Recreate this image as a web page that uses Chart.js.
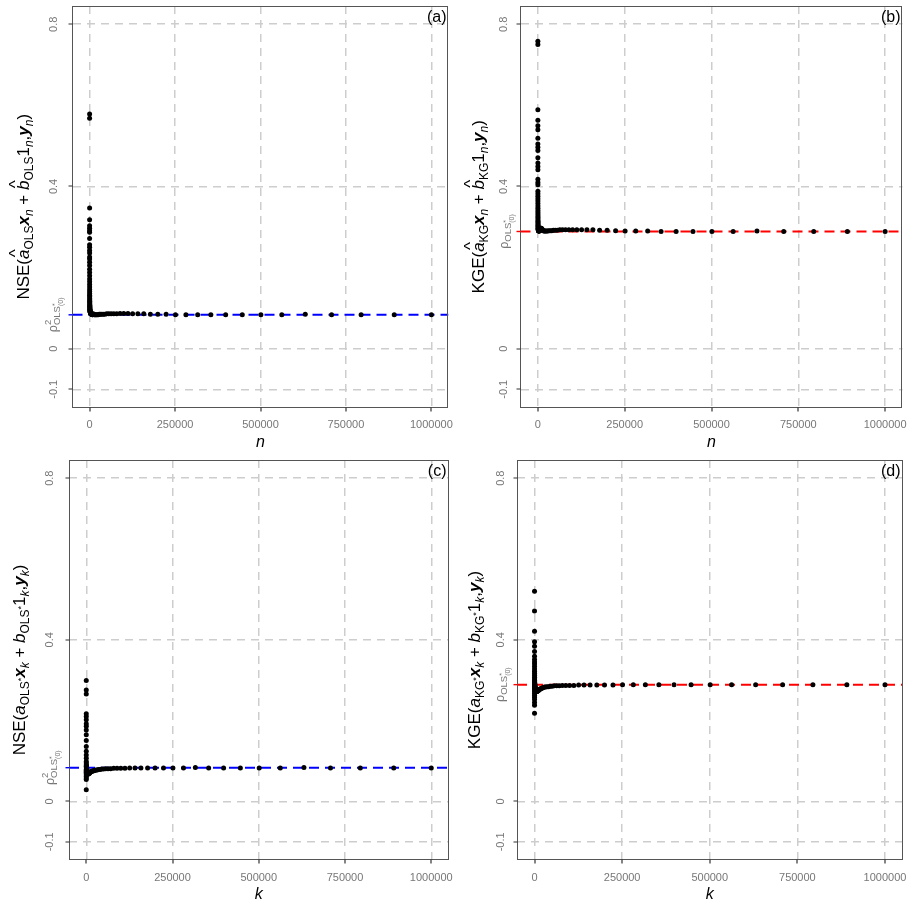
<!DOCTYPE html>
<html><head><meta charset="utf-8">
<script src="https://cdn.jsdelivr.net/npm/chart.js@4.4.1/dist/chart.umd.min.js"></script>
<style>
html,body{margin:0;padding:0;background:#fff;}
#wrap{position:relative;width:916px;height:906px;background:#fff;}
canvas{position:absolute;}
</style></head><body>
<div id="wrap">
<canvas id="pa" width="458" height="453" style="left:0;top:0"></canvas>
<canvas id="pb" width="458" height="453" style="left:458px;top:0"></canvas>
<canvas id="pc" width="458" height="453" style="left:0;top:453px"></canvas>
<canvas id="pd" width="458" height="453" style="left:458px;top:453px"></canvas>
</div>
<script>
// ---------- data ----------
const SAMPLE_SIZE = [
  10, 11, 13, 14, 16, 18, 20, 22, 25, 28, 32, 35, 40, 45, 50, 56, 63, 71, 79, 89,
  100, 112, 126, 141, 158, 178, 200, 224, 251, 282, 316, 355, 398, 447, 501, 562, 631, 708, 794, 891,
  1000, 1122, 1259, 1413, 1585, 1778, 1995, 2239, 2512, 2818, 3162, 3548, 3981, 4467, 5012, 5623, 6310, 7079, 7943, 8913,
  10000, 11220, 12589, 14125, 15849, 17783, 19953, 22387, 25119, 28184, 31623, 35481, 39811, 44668, 50119, 56234, 63096, 70795, 79433, 89125,
  100000, 112202, 125893, 141254, 158489, 177828, 199526, 223872, 251189, 281838, 316228, 354813, 398107, 446684, 501187, 562341, 630957, 707946, 794328, 891251, 1000000
];
const NSE_OLS_HAT = [
  0.579, 0.568, 0.347, 0.297, 0.318, 0.272, 0.303, 0.287, 0.256, 0.291,
  0.242, 0.250, 0.226, 0.236, 0.213, 0.221, 0.196, 0.205, 0.188, 0.172,
  0.180, 0.165, 0.152, 0.158, 0.146, 0.141, 0.132, 0.136, 0.124, 0.128,
  0.117, 0.120, 0.111, 0.114, 0.106, 0.108, 0.102, 0.104, 0.098, 0.100,
  0.096, 0.095, 0.093, 0.094, 0.092, 0.091, 0.090, 0.089, 0.088, 0.088,
  0.087, 0.087, 0.086, 0.086, 0.086, 0.085, 0.085, 0.085, 0.084, 0.084,
  0.086, 0.085, 0.085, 0.084, 0.084, 0.084, 0.084, 0.084, 0.084, 0.085,
  0.085, 0.085, 0.085, 0.085, 0.086, 0.086, 0.086, 0.086, 0.086, 0.087,
  0.087, 0.087, 0.086, 0.086, 0.086, 0.085, 0.085, 0.085, 0.084, 0.084,
  0.084, 0.084, 0.084, 0.084, 0.084, 0.084, 0.085, 0.084, 0.084, 0.084, 0.084
];
const KGE_KG_HAT = [
  0.758, 0.750, 0.589, 0.563, 0.550, 0.540, 0.519, 0.505, 0.497, 0.489,
  0.471, 0.458, 0.449, 0.441, 0.418, 0.410, 0.404, 0.388, 0.382, 0.376,
  0.370, 0.364, 0.358, 0.352, 0.346, 0.341, 0.336, 0.331, 0.326, 0.322,
  0.318, 0.314, 0.311, 0.308, 0.305, 0.303, 0.301, 0.299, 0.297, 0.296,
  0.295, 0.294, 0.293, 0.293, 0.292, 0.292, 0.291, 0.291, 0.291, 0.290,
  0.290, 0.290, 0.290, 0.291, 0.292, 0.293, 0.294, 0.295, 0.296, 0.297,
  0.297, 0.296, 0.294, 0.292, 0.291, 0.290, 0.290, 0.290, 0.290, 0.290,
  0.291, 0.291, 0.291, 0.292, 0.292, 0.292, 0.293, 0.293, 0.293, 0.293,
  0.293, 0.293, 0.293, 0.293, 0.293, 0.292, 0.292, 0.291, 0.290, 0.290,
  0.290, 0.289, 0.289, 0.289, 0.289, 0.289, 0.290, 0.289, 0.289, 0.289, 0.289
];
const NSE_OLS_STAR = [
  0.299, 0.029, 0.276, 0.266, 0.054, 0.217, 0.210, 0.058, 0.202, 0.192,
  0.186, 0.066, 0.177, 0.165, 0.074, 0.151, 0.136, 0.062, 0.124, 0.115,
  0.070, 0.107, 0.099, 0.072, 0.091, 0.095, 0.076, 0.088, 0.078, 0.086,
  0.080, 0.087, 0.078, 0.085, 0.079, 0.084, 0.080, 0.083, 0.079, 0.082,
  0.078, 0.081, 0.077, 0.079, 0.076, 0.075, 0.074, 0.073, 0.072, 0.071,
  0.070, 0.069, 0.069, 0.068, 0.068, 0.068, 0.069, 0.069, 0.070, 0.070,
  0.071, 0.072, 0.073, 0.074, 0.074, 0.075, 0.076, 0.076, 0.077, 0.078,
  0.078, 0.079, 0.079, 0.080, 0.080, 0.081, 0.081, 0.081, 0.082, 0.082,
  0.082, 0.082, 0.083, 0.083, 0.083, 0.083, 0.083, 0.083, 0.083, 0.083,
  0.084, 0.083, 0.083, 0.083, 0.083, 0.083, 0.084, 0.083, 0.083, 0.083, 0.083
];
const KGE_KG_STAR = [
  0.520, 0.218, 0.471, 0.421, 0.238, 0.395, 0.384, 0.245, 0.371, 0.359,
  0.252, 0.351, 0.345, 0.258, 0.340, 0.334, 0.263, 0.328, 0.322, 0.268,
  0.317, 0.312, 0.272, 0.307, 0.303, 0.276, 0.300, 0.297, 0.279, 0.295,
  0.293, 0.281, 0.292, 0.291, 0.283, 0.290, 0.289, 0.284, 0.288, 0.286,
  0.285, 0.284, 0.283, 0.282, 0.281, 0.280, 0.279, 0.278, 0.277, 0.276,
  0.275, 0.274, 0.273, 0.273, 0.272, 0.272, 0.272, 0.272, 0.273, 0.273,
  0.274, 0.275, 0.276, 0.277, 0.278, 0.279, 0.280, 0.281, 0.282, 0.283,
  0.283, 0.284, 0.284, 0.285, 0.285, 0.286, 0.286, 0.286, 0.287, 0.287,
  0.287, 0.287, 0.288, 0.288, 0.288, 0.288, 0.288, 0.288, 0.289, 0.289,
  0.289, 0.289, 0.289, 0.289, 0.289, 0.289, 0.289, 0.289, 0.289, 0.289, 0.289
];
const RHO2_OLS = 0.0835;   // rho^2_OLS*(0)
const RHO_OLS = 0.289;     // rho_OLS*(0)
const X_TICKS = [0, 250000, 500000, 750000, 1000000];
const Y_TICKS = [-0.1, 0, 0.4, 0.8];
const Y_TICK_LABELS = ['-0.1', '0', '0.4', '0.8'];
const X_RANGE = [-50000, 1050000];
const Y_RANGE = [-0.145, 0.845];

// ---------- rich text helpers ----------
const FAM = '"Liberation Sans", Arial, Helvetica, sans-serif';
const M = 17, S = 12;
function T(t, o) { return Object.assign({ t: t, size: M, style: '', dy: 0 }, o || {}); }
function fontOf(s) { return ((s.style ? s.style + ' ' : '') + s.size + 'px ' + FAM); }
function measure(ctx, segs) {
  let w = 0;
  for (const s of segs) {
    if (s.stack) { w += Math.max.apply(null, s.stack.map(a => measure(ctx, a))); }
    else { ctx.font = fontOf(s); w += ctx.measureText(s.t).width; }
  }
  return w;
}
function drawSegs(ctx, segs, x, y) {
  for (const s of segs) {
    if (s.stack) {
      let mx = x;
      for (const a of s.stack) { mx = Math.max(mx, drawSegs(ctx, a, x, y)); }
      x = mx;
    } else {
      ctx.font = fontOf(s);
      ctx.fillText(s.t, x, y + s.dy);
      const w = ctx.measureText(s.t).width;
      if (s.hat) {
        ctx.font = s.size + 'px ' + FAM;
        const hw = ctx.measureText('^').width;
        ctx.fillText('^', x + w / 2 - hw / 2 + 1, y + s.dy - 0.45 * s.size);
      }
      x += w;
    }
  }
  return x;
}
function drawRotated(ctx, segs, bx, cy, color) {
  ctx.save();
  ctx.translate(bx, cy);
  ctx.rotate(-Math.PI / 2);
  ctx.fillStyle = color;
  ctx.textAlign = 'left';
  ctx.textBaseline = 'alphabetic';
  const w = measure(ctx, segs);
  drawSegs(ctx, segs, -w / 2, 0);
  ctx.restore();
}

const subS = (t, o) => T(t, Object.assign({ size: S, dy: 4 }, o || {}));
const titleA = [T('NSE('), T('a', { style: 'italic', hat: true }), subS('OLS'), T('x', { style: 'italic bold' }), subS('n', { style: 'italic' }),
  T(' + '), T('b', { style: 'italic', hat: true }), subS('OLS'), T('1'), subS('n', { style: 'italic' }), T(','),
  T('y', { style: 'italic bold' }), subS('n', { style: 'italic' }), T(')')];
const titleB = [T('KGE('), T('a', { style: 'italic', hat: true }), subS('KG'), T('x', { style: 'italic bold' }), subS('n', { style: 'italic' }),
  T(' + '), T('b', { style: 'italic', hat: true }), subS('KG'), T('1'), subS('n', { style: 'italic' }), T(','),
  T('y', { style: 'italic bold' }), subS('n', { style: 'italic' }), T(')')];
const star = () => T('*', { size: 9, dy: -1 });
const titleC = [T('NSE('), T('a', { style: 'italic' }), subS('OLS'), star(), T('x', { style: 'italic bold' }), subS('k', { style: 'italic' }),
  T(' + '), T('b', { style: 'italic' }), subS('OLS'), star(), T('1'), subS('k', { style: 'italic' }), T(','),
  T('y', { style: 'italic bold' }), subS('k', { style: 'italic' }), T(')')];
const titleD = [T('KGE('), T('a', { style: 'italic' }), subS('KG'), star(), T('x', { style: 'italic bold' }), subS('k', { style: 'italic' }),
  T(' + '), T('b', { style: 'italic' }), subS('KG'), star(), T('1'), subS('k', { style: 'italic' }), T(','),
  T('y', { style: 'italic bold' }), subS('k', { style: 'italic' }), T(')')];
const olsStar = () => [T('OLS', { size: 9.5, dy: 3 }), { stack: [[T('*', { size: 7, dy: 0 })], [T('(0)', { size: 7, dy: 6 })]] }];
const rho2Label = [T('ρ', { size: 12.5 }), { stack: [[T('2', { size: 9.5, dy: -6 })], olsStar()] }];
const rhoLabel = [T('ρ', { size: 12.5 })].concat(olsStar());

const TICK_COLOR = '#777777';
const PANELS = [
  { id: 'pa', ys: NSE_OLS_HAT, ref: RHO2_OLS, refColor: '#0000ff', tag: '(a)', xTitle: 'n', pad: { top: 6, right: 9.5 }, yW: 72.5, xH: 45.5, tickOff: 15.7, titleOff: 44, title: titleA, refLabel: rho2Label },
  { id: 'pb', ys: KGE_KG_HAT, ref: RHO_OLS, refColor: '#ff0000', tag: '(b)', xTitle: 'n', pad: { top: 6, right: 13.5 }, yW: 62.5, xH: 45.5, tickOff: 13.5, titleOff: 37, title: titleB, refLabel: rhoLabel },
  { id: 'pc', ys: NSE_OLS_STAR, ref: RHO2_OLS, refColor: '#0000ff', tag: '(c)', xTitle: 'k', pad: { top: 7, right: 9.5 }, yW: 69, xH: 46, tickOff: 15.7, titleOff: 44, title: titleC, refLabel: rho2Label },
  { id: 'pd', ys: KGE_KG_STAR, ref: RHO_OLS, refColor: '#ff0000', tag: '(d)', xTitle: 'k', pad: { top: 7, right: 13.5 }, yW: 59, xH: 46, tickOff: 13.5, titleOff: 37, title: titleD, refLabel: rhoLabel }
];

function decor(p) {
  return {
    id: 'decor_' + p.id,
    afterDraw(chart) {
      const ctx = chart.ctx, a = chart.chartArea, ys = chart.scales.y, xs = chart.scales.x;
      ctx.save();
      // frame
      const L = Math.floor(a.left) + 0.5, B = Math.round(a.bottom) - 0.5;
      ctx.strokeStyle = '#555555';
      ctx.lineWidth = 1;
      ctx.strokeRect(L, Math.floor(a.top) + 0.5, Math.round(a.right - a.left) - 1, B - Math.floor(a.top) - 0.5);
      // tick marks
      ctx.strokeStyle = '#333333';
      ctx.lineWidth = 1.2;
      ctx.beginPath();
      Y_TICKS.forEach(v => { const py = Math.round(ys.getPixelForValue(v)); ctx.moveTo(L - 4, py); ctx.lineTo(L, py); });
      X_TICKS.forEach(v => { const px = Math.round(xs.getPixelForValue(v)); ctx.moveTo(px, B); ctx.lineTo(px, B + 4); });
      ctx.stroke();
      // reference tick
      const ry = ys.getPixelForValue(p.ref);
      ctx.strokeStyle = p.refColor;
      ctx.lineWidth = 1.4;
      ctx.beginPath(); ctx.moveTo(L - 4, ry); ctx.lineTo(L, ry); ctx.stroke();
      // y tick labels (rotated)
      Y_TICKS.forEach((v, i) => {
        drawRotated(ctx, [T(Y_TICK_LABELS[i], { size: 11 })], a.left - p.tickOff, ys.getPixelForValue(v), TICK_COLOR);
      });
      drawRotated(ctx, p.refLabel, a.left - p.tickOff + 0.5, ry, TICK_COLOR);
      // y title
      drawRotated(ctx, p.title, a.left - p.titleOff, (a.top + a.bottom) / 2, '#000');
      // x title
      ctx.fillStyle = '#000';
      ctx.font = 'italic 16px ' + FAM;
      ctx.textAlign = 'center';
      ctx.textBaseline = 'alphabetic';
      ctx.fillText(p.xTitle, (a.left + a.right) / 2, a.bottom + 39);
      // panel tag
      ctx.font = '16px ' + FAM;
      ctx.textAlign = 'right';
      ctx.fillText(p.tag, a.right - 2, a.top + 15.5);
      ctx.restore();
    }
  };
}

const zeroPad = s => { s.paddingLeft = 0; s.paddingRight = 0; s.paddingTop = 0; s.paddingBottom = 0; };

PANELS.forEach(p => {
  const pts = SAMPLE_SIZE.map((x, i) => ({ x: x, y: p.ys[i] }));
  new Chart(document.getElementById(p.id), {
    type: 'scatter',
    data: {
      datasets: [
        { type: 'line', data: [{ x: X_RANGE[0], y: p.ref }, { x: X_RANGE[1], y: p.ref }], borderColor: p.refColor, borderWidth: 2,
          borderDash: [10, 6], pointRadius: 0, fill: false, order: 2 },
        { data: pts, backgroundColor: '#000', borderWidth: 0, pointRadius: 2.5, pointHoverRadius: 2.5, order: 1 }
      ]
    },
    options: {
      animation: false, responsive: false, devicePixelRatio: 1, events: [],
      layout: { padding: { top: p.pad.top, right: p.pad.right, left: 0, bottom: 0 } },
      plugins: { legend: { display: false }, tooltip: { enabled: false } },
      scales: {
        x: {
          type: 'linear', min: X_RANGE[0], max: X_RANGE[1],
          afterBuildTicks: s => { s.ticks = X_TICKS.map(v => ({ value: v })); },
          afterFit: s => { s.height = p.xH; zeroPad(s); },
          grid: { color: '#cdcdcd', lineWidth: 1.5, drawTicks: false },
          border: { display: false, dash: [8, 6] },
          ticks: { autoSkip: false, maxRotation: 0, minRotation: 0, padding: 11, color: TICK_COLOR,
            font: { family: FAM, size: 11 }, callback: v => String(v) }
        },
        y: {
          type: 'linear', min: Y_RANGE[0], max: Y_RANGE[1],
          afterBuildTicks: s => { s.ticks = Y_TICKS.map(v => ({ value: v })); },
          afterFit: s => { s.width = p.yW; zeroPad(s); },
          grid: { color: '#cdcdcd', lineWidth: 1.5, drawTicks: false },
          border: { display: false, dash: [8, 6] },
          ticks: { display: false }
        }
      }
    },
    plugins: [decor(p)]
  });
});
</script>
</body></html>
